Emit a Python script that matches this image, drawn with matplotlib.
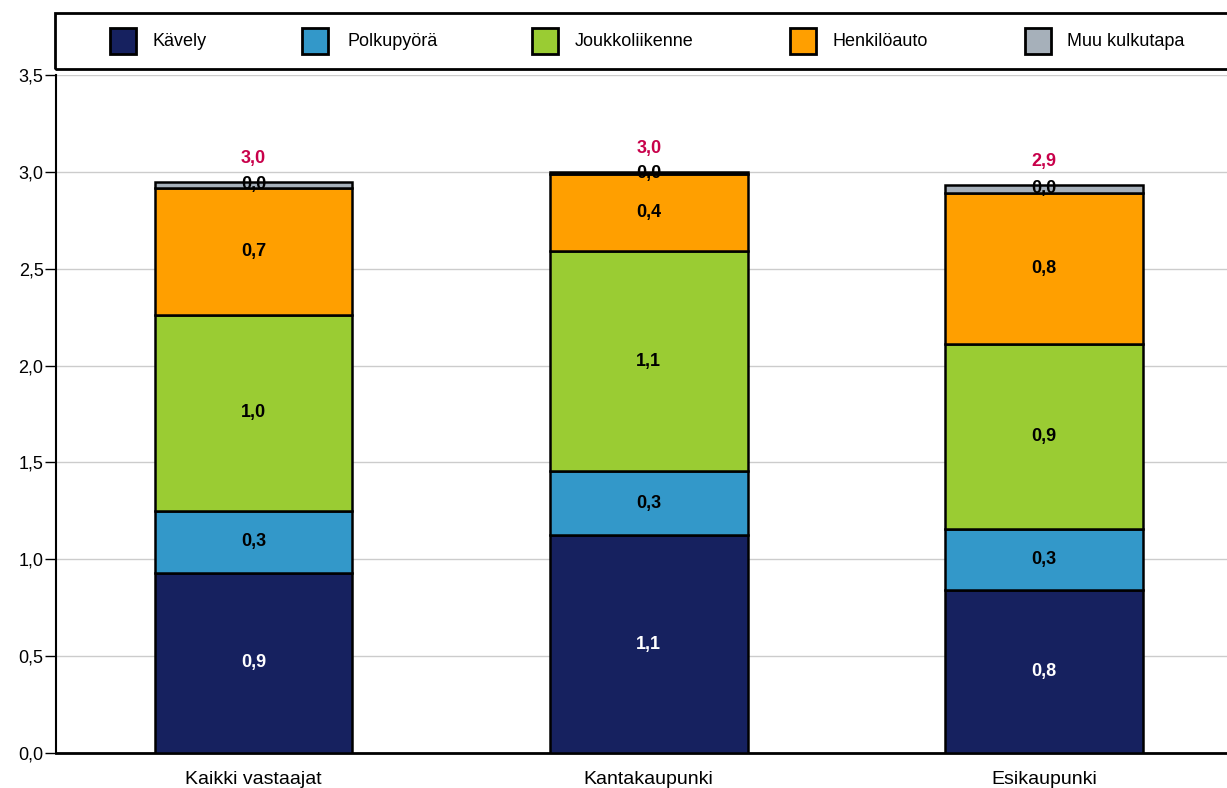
import matplotlib.pyplot as plt
from matplotlib.patches import Rectangle
import numpy as np

plt.rcParams['font.family'] = ['Liberation Sans', 'DejaVu Sans']

categories = ['Kaikki vastaajat', 'Kantakaupunki', 'Esikaupunki']
series = ['Kävely', 'Polkupyörä', 'Joukkoliikenne', 'Henkilöauto', 'Muu kulkutapa']
kavely = [0.93, 1.125, 0.842]
polkupyora = [0.32, 0.33, 0.315]
joukko = [1.012, 1.136, 0.955]
auto = [0.656, 0.397, 0.78]
muu = [0.031, 0.01, 0.04]
seg_labels = [['0,9', '1,1', '0,8'],
              ['0,3', '0,3', '0,3'],
              ['1,0', '1,1', '0,9'],
              ['0,7', '0,4', '0,8'],
              ['0,0', '0,0', '0,0']]
total_labels = ['3,0', '3,0', '2,9']

colors = ['#16215f', '#3398c9', '#9acc33', '#ff9f00', '#a6b0ba']
text_colors = ['white', 'black', 'black', 'black', 'black']

W, H = 1227, 788
fig = plt.figure(figsize=(W / 100, H / 100), dpi=100)
ax = fig.add_axes([56 / W, 1 - 753 / H, 1 - 56 / W, (753 - 75) / H])

x = np.arange(len(categories))
data = [kavely, polkupyora, joukko, auto, muu]
bottom = np.zeros(len(categories))
for i, vals in enumerate(data):
    vals = np.array(vals)
    ax.bar(x, vals, 0.5, bottom=bottom, color=colors[i], edgecolor='black',
           linewidth=1.8, zorder=3, label=series[i])
    for j in range(len(x)):
        ax.text(x[j], bottom[j] + vals[j] / 2, seg_labels[i][j], ha='center', va='center',
                fontsize=13, fontweight='bold', color=text_colors[i], zorder=4)
    bottom = bottom + vals

for j in range(len(x)):
    ax.annotate(total_labels[j], (x[j], bottom[j]), xytext=(0, 17), textcoords='offset points',
                ha='center', va='center', fontsize=13, fontweight='bold', color='#c8004a')

ax.set_xlim(-0.5, 2.463)
ax.set_ylim(0, 3.5)
yt = np.arange(0, 3.51, 0.5)
ax.set_yticks(yt)
ax.set_yticklabels([('%.1f' % v).replace('.', ',') for v in yt], fontsize=13)
ax.set_xticks(x)
ax.set_xticklabels(categories, fontsize=14)
ax.tick_params(axis='x', length=0, pad=13)
ax.tick_params(axis='y', length=8, width=1, pad=1)
ax.grid(axis='y', color='#cccccc', linewidth=1, zorder=0)
ax.set_axisbelow(True)
for s in ['top', 'right']:
    ax.spines[s].set_visible(False)
ax.spines['left'].set_linewidth(1.5)
ax.spines['bottom'].set_linewidth(2)

# legend drawn by hand in pixel positions
def fx(px):
    return px / W

def fy(py):
    return 1 - py / H

fig.patches.append(Rectangle((fx(55), fy(69)), fx(1260) - fx(55), (69 - 13) / H,
                             transform=fig.transFigure, fill=False, edgecolor='black',
                             linewidth=2, zorder=5))
swatch_x = [110, 302, 532, 790, 1025]
text_x = [153, 347, 575, 832, 1067]
for i in range(len(series)):
    fig.patches.append(Rectangle((fx(swatch_x[i]), fy(54)), 26 / W, 26 / H,
                                 transform=fig.transFigure, facecolor=colors[i],
                                 edgecolor='black', linewidth=2, zorder=6))
    fig.text(fx(text_x[i]), fy(41), series[i], ha='left', va='center', fontsize=13)

fig.savefig('out.png', dpi=100)
